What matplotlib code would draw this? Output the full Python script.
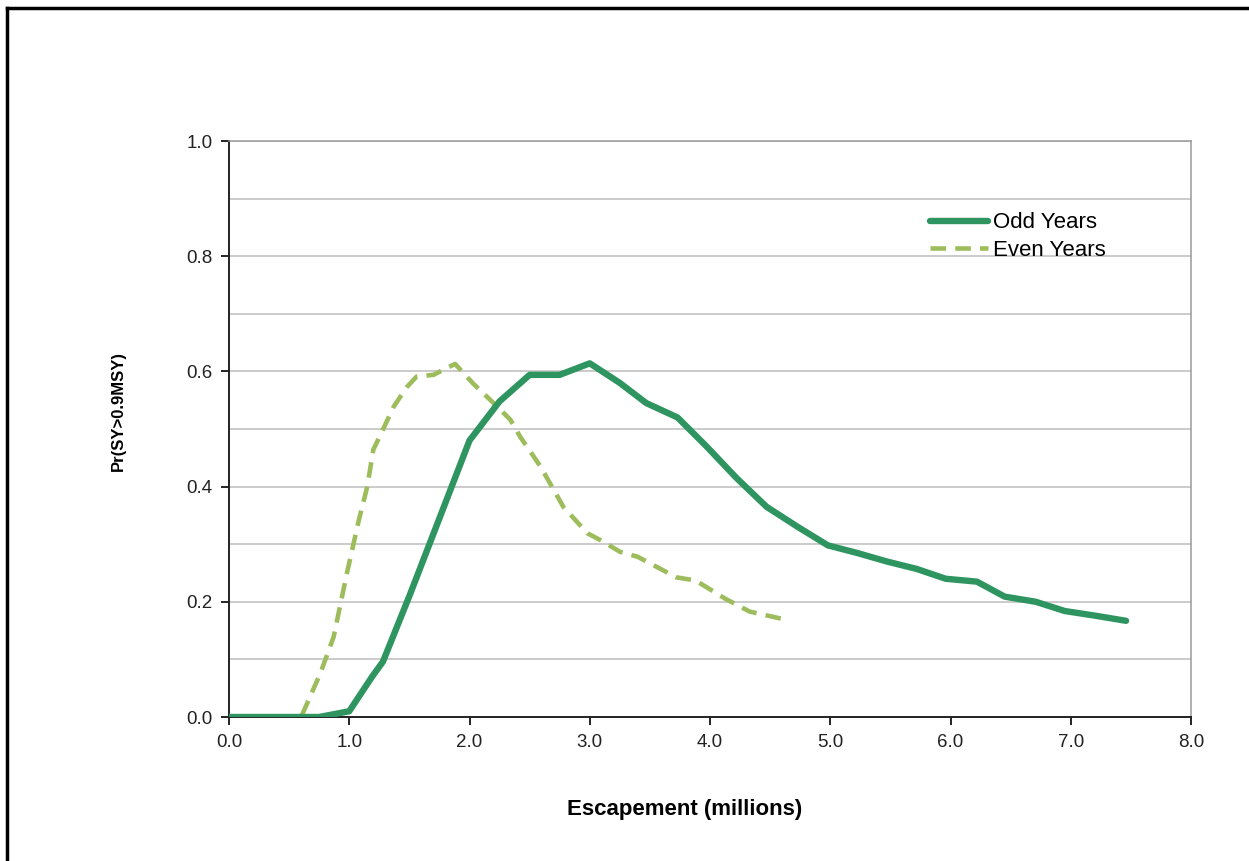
import matplotlib.pyplot as plt
from matplotlib.lines import Line2D

plt.rcParams['font.family'] = ['Liberation Sans', 'DejaVu Sans']

# Odd years (solid line)
odd_x = [0, 0.25, 0.5, 0.75, 1.0, 1.19, 1.28, 1.5, 1.75, 2.0, 2.25, 2.5, 2.75, 3.0,
         3.25, 3.47, 3.73, 3.97, 4.22, 4.47, 4.73, 4.98, 5.22, 5.47, 5.72, 5.96,
         6.22, 6.45, 6.71, 6.95, 7.2, 7.46]
odd_y = [0, 0, 0, 0, 0.01, 0.07, 0.096, 0.21, 0.345, 0.48, 0.548, 0.594, 0.594, 0.614,
         0.58, 0.545, 0.52, 0.47, 0.415, 0.365, 0.33, 0.298, 0.285, 0.27, 0.257, 0.24,
         0.235, 0.209, 0.2, 0.184, 0.176, 0.167]

# Even years (dashed line)
even_x = [0, 0.25, 0.5, 0.6, 0.76, 0.87, 0.98, 1.08, 1.15, 1.2, 1.26, 1.37, 1.48, 1.56,
          1.7, 1.88, 2.03, 2.23, 2.34, 2.42, 2.59, 2.78, 2.98, 3.09, 3.25, 3.4, 3.72,
          3.88, 4.13, 4.33, 4.65]
even_y = [0, 0, 0, 0, 0.076, 0.139, 0.249, 0.342, 0.40, 0.464, 0.49, 0.539, 0.573, 0.591,
          0.594, 0.613, 0.579, 0.539, 0.516, 0.487, 0.435, 0.365, 0.319, 0.307, 0.287,
          0.278, 0.2425, 0.237, 0.205, 0.183, 0.168]

x_ticks = [0, 1, 2, 3, 4, 5, 6, 7, 8]
y_ticks = [0, 0.2, 0.4, 0.6, 0.8, 1.0]

fig = plt.figure(figsize=(12.49, 8.61), dpi=100)
ax = fig.add_axes([229 / 1249, 1 - 717 / 861, (1191 - 229) / 1249, (717 - 141) / 861])

# light gridlines every 0.1
for g in [i / 10 for i in range(1, 11)]:
    ax.axhline(g, color='#bdbdbd', lw=1.1, zorder=0)

ax.plot(odd_x, odd_y, color='#2f9560', lw=4.6, solid_capstyle='round',
        solid_joinstyle='round', label='Odd Years', zorder=3)
ax.plot(even_x, even_y, color='#9dbd5c', lw=3.3, ls=(0, (3.4, 2)),
        label='Even Years', zorder=2)

ax.set_xlim(0, 8)
ax.set_ylim(0, 1)
ax.set_xticks(x_ticks)
ax.set_xticklabels([f'{v:.1f}' for v in x_ticks])
ax.set_yticks(y_ticks)
ax.set_yticklabels([f'{v:.1f}' for v in y_ticks])
ax.tick_params(direction='out', length=6, width=1.2, labelsize=13.5, pad=6,
               labelcolor='#222222')

for s in ['left', 'bottom']:
    ax.spines[s].set_color('#222222')
    ax.spines[s].set_linewidth(1.4)
for s in ['top', 'right']:
    ax.spines[s].set_color('#9a9a9a')
    ax.spines[s].set_linewidth(1.1)

fig.text(685 / 1249, 1 - 810 / 861, 'Escapement (millions)', ha='center', va='center',
         fontsize=16, fontweight='bold')
fig.text(118 / 1249, 1 - 411 / 861, 'Pr(SY>0.9MSY)', ha='center', va='center',
         rotation=90, fontsize=12, fontweight='bold')

leg = ax.legend(loc='upper left', bbox_to_anchor=(0.729, 0.876), frameon=False,
                fontsize=16, handlelength=2.6, handletextpad=0.2, labelspacing=0.3,
                borderaxespad=0, borderpad=0)

# outer frame (left and top edges visible)
fig.add_artist(Line2D([7 / 1249, 7 / 1249], [0, 1 - 8 / 861], color='black', lw=2.5,
                      transform=fig.transFigure))
fig.add_artist(Line2D([7 / 1249, 1], [1 - 8 / 861, 1 - 8 / 861], color='black', lw=2.5,
                      transform=fig.transFigure))

fig.savefig('out.png', dpi=100)
